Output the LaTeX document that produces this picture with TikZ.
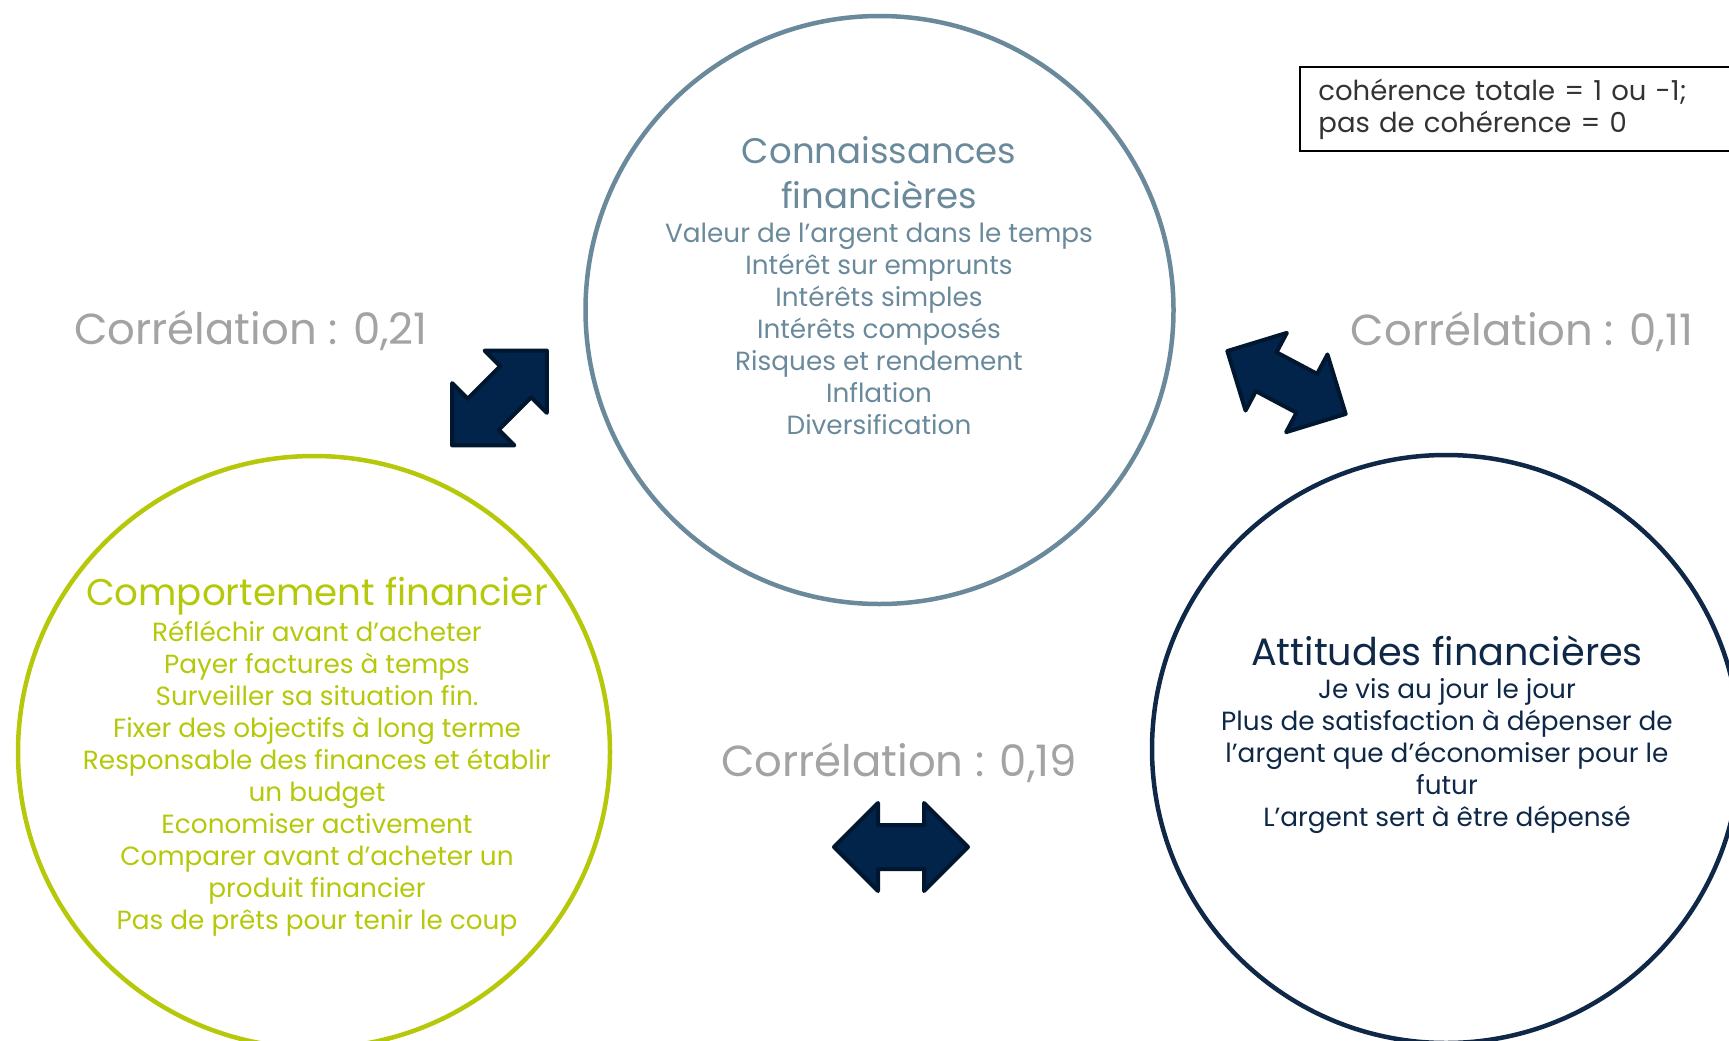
\documentclass[tikz,border=0pt]{standalone}
\usepackage{fontspec}
\setmainfont{Poppins}
\definecolor{steel}{HTML}{6A8A9C}
\definecolor{lime}{HTML}{B5C80A}
\definecolor{navy}{HTML}{0F2848}
\definecolor{arrowfill}{HTML}{02234A}
\definecolor{arrowline}{HTML}{00172F}
\definecolor{corrgray}{HTML}{A3A3A3}
\definecolor{legendtext}{HTML}{333333}
\begin{document}
\begin{tikzpicture}[x=1pt,y=-1pt,
  ring/.style={circle, draw, line width=4.5pt, inner sep=0pt, minimum size=#1},
  ring/.default=587pt,
  titletext/.style={font=\fontsize{#1}{45}\selectfont, align=center, inner sep=0pt},
  titletext/.default=37,
  itemtext/.style={font=\fontsize{26.3}{32}\selectfont, align=center, inner sep=0pt},
  corrtext/.style={font=\fontsize{43.4}{50}\selectfont, text=corrgray, inner sep=0pt},
  arrowbody/.style={fill=arrowfill, draw=arrowline, line width=4pt, line join=round},
  pics/dblarrow/.style={code={
    \draw[arrowbody] (67,0) -- (23,44) -- (23,22) -- (-23,22) -- (-23,44) -- (-67,0)
      -- (-23,-44) -- (-23,-22) -- (23,-22) -- (23,-44) -- cycle;}}
]
\useasboundingbox (0,0) rectangle (1729,1041);

% the three circles
\node[ring=588pt, draw=steel] (know) at (879.5,310) {};
\node[ring=592pt, draw=lime] (behav) at (314,752) {};
\node[ring=588pt, draw=navy] (attit) at (1446,749) {};

% knowledge
\node[titletext=35.5, text=steel] (knowtitle) at (879,172.5) {Connaissances\\financières};
\node[itemtext, text=steel] (knowitems) at (879,329) {Valeur de l’argent dans le temps\\Intérêt sur emprunts\\Intérêts simples\\Intérêts composés\\Risques et rendement\\Inflation\\Diversification};

% behaviour
\node[titletext=37.2, text=lime] (behavtitle) at (317,596.5) {Comportement financier};
\node[itemtext, text=lime] (behavitems) at (317,778.5) {Réfléchir avant d’acheter\\Payer factures à temps\\Surveiller sa situation fin.\\Fixer des objectifs à long terme\\Responsable des finances et établir\\un budget\\Economiser activement\\Comparer avant d’acheter un\\produit financier\\Pas de prêts pour tenir le coup};

% attitudes
\node[titletext=38.2, text=navy] (attittitle) at (1447,651) {Attitudes financières};
\node[itemtext, text=navy] (attititems) at (1447,756.5) {Je vis au jour le jour\\Plus de satisfaction à dépenser de\\l’argent que d’économiser pour le\\futur\\L’argent sert à être dépensé};

% correlations
\node[corrtext] (c21) at (251,331) {Corrélation : 0,21};
\node[corrtext] (c11) at (1522,332) {Corrélation : 0,11};
\node[corrtext] (c19) at (899,763) {Corrélation : 0,19};

\pic[rotate=45] (a21) at (499.5,398) {dblarrow};
\pic[rotate=-28] (a11) at (1286.5,382.5) {dblarrow};
\pic (a19) at (901,847) {dblarrow};

% legend
\node[draw=black, line width=1.8pt, anchor=north west, minimum height=84pt,
  text width=409pt, inner xsep=18.5pt, align=left, text=legendtext,
  font=\fontsize{27.5}{32}\selectfont] (legend) at (1299,66)
  {cohérence totale = 1 ou -1;\\pas de cohérence = 0};
\end{tikzpicture}
\end{document}
